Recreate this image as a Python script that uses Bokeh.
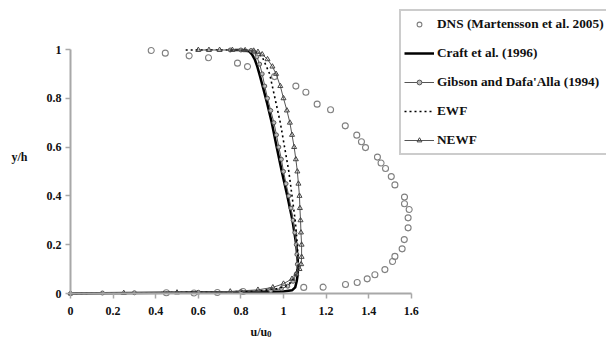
from bokeh.plotting import figure
from bokeh.models import Legend, LegendItem, Label, Range1d, FixedTicker
from bokeh.embed import file_html
from bokeh.resources import INLINE

# ---------------- data ----------------
dns_u = [0.379, 0.445, 0.557, 0.648, 0.784, 0.831, 0.958, 1.058, 1.105, 1.158, 1.221, 1.290,
         1.344, 1.366, 1.385, 1.441, 1.458, 1.479, 1.506, 1.523, 1.568, 1.568, 1.590, 1.585,
         1.585, 1.567, 1.557, 1.523, 1.512, 1.476, 1.429, 1.393, 1.346, 1.291, 1.186, 1.095,
         0.94, 0.81, 0.69, 0.58, 0.45]
dns_y = [0.996, 0.985, 0.974, 0.966, 0.944, 0.930, 0.889, 0.850, 0.825, 0.776, 0.753, 0.687,
         0.649, 0.622, 0.598, 0.559, 0.535, 0.512, 0.479, 0.445, 0.395, 0.368, 0.344, 0.310,
         0.269, 0.221, 0.183, 0.152, 0.131, 0.098, 0.077, 0.060, 0.045, 0.037, 0.026, 0.025,
         0.012, 0.008, 0.004, 0.002, 0.003]

craft_u = [0, 0.3, 0.6, 0.9, 1.0, 1.04, 1.055, 1.062, 1.067, 1.068, 1.06, 1.042, 1.018, 0.992,
           0.968, 0.945, 0.923, 0.905, 0.89, 0.877, 0.865, 0.852, 0.838, 0.81, 0.77]
craft_y = [0, 0.002, 0.004, 0.006, 0.008, 0.013, 0.025, 0.05, 0.08, 0.12, 0.2, 0.3, 0.4, 0.5,
           0.6, 0.7, 0.78, 0.84, 0.89, 0.93, 0.96, 0.98, 0.993, 0.998, 0.998]

gib_u = [0, 0.15, 0.3, 0.6, 0.8, 0.94, 0.99, 1.02, 1.045, 1.06, 1.065, 1.063, 1.06, 1.053,
         1.045, 1.035, 1.025, 1.012, 1.0, 0.99, 0.978, 0.967, 0.955, 0.94, 0.925, 0.912,
         0.9, 0.888, 0.875, 0.862, 0.848, 0.8, 0.75]
gib_y = [0, 0.002, 0.003, 0.005, 0.008, 0.012, 0.02, 0.03, 0.05, 0.08, 0.12, 0.16, 0.2, 0.25,
         0.3, 0.35, 0.4, 0.45, 0.5, 0.55, 0.6, 0.65, 0.7, 0.75, 0.8, 0.85, 0.9, 0.94, 0.97,
         0.99, 0.996, 0.998, 0.998]

ewf_u = [0, 0.25, 0.5, 0.75, 0.9, 0.97, 1.01, 1.04, 1.06, 1.07, 1.065, 1.055, 1.04, 1.025,
         1.005, 0.985, 0.96, 0.935, 0.9, 0.86, 0.7, 0.53]
ewf_y = [0, 0.002, 0.004, 0.007, 0.012, 0.02, 0.03, 0.05, 0.08, 0.12, 0.2, 0.3, 0.4, 0.5, 0.6,
         0.7, 0.8, 0.9, 0.97, 0.995, 0.999, 0.998]

newf_u = [0, 0.25, 0.5, 0.75, 0.88, 0.95, 1.0, 1.04, 1.06, 1.075, 1.083, 1.085, 1.085, 1.082,
          1.08, 1.077, 1.075, 1.07, 1.065, 1.058, 1.05, 1.04, 1.03, 1.016, 1.0, 0.985, 0.965,
          0.948, 0.925, 0.9, 0.88, 0.86, 0.82, 0.76, 0.7, 0.65, 0.6]
newf_y = [0, 0.002, 0.004, 0.008, 0.015, 0.025, 0.04, 0.06, 0.08, 0.1, 0.12, 0.15, 0.2, 0.25,
          0.3, 0.35, 0.4, 0.45, 0.5, 0.55, 0.6, 0.65, 0.7, 0.75, 0.8, 0.85, 0.9, 0.93, 0.96,
          0.98, 0.99, 0.995, 0.997, 0.998, 0.998, 0.998, 0.998]

x_ticks = [0, 0.2, 0.4, 0.6, 0.8, 1.0, 1.2, 1.4, 1.6]
x_tick_labels = ["0", "0.2", "0.4", "0.6", "0.8", "1", "1.2", "1.4", "1.6"]
y_ticks = [0, 0.2, 0.4, 0.6, 0.8, 1.0]
y_tick_labels = ["0", "0.2", "0.4", "0.6", "0.8", "1"]

labels = ["DNS (Martensson et al. 2005)", "Craft et al. (1996)",
          "Gibson and Dafa'Alla (1994)", "EWF", "NEWF"]

FONT = "Liberation Serif"

# pixel mapping: x=0 at 70px, 213 px/unit ; y=0 at 293px, 244 px/unit
W, H = 606, 341
x0px, xs = 70.0, 213.0
y0px, ys = 293.0, 244.0

p = figure(width=W, height=H, output_backend="svg", toolbar_location=None,
           x_range=Range1d(-x0px / xs, (W - x0px) / xs),
           y_range=Range1d((y0px - H) / ys, y0px / ys),
           min_border=0)
p.outline_line_color = None
p.xgrid.visible = False
p.ygrid.visible = False
p.background_fill_color = "white"

for ax in (p.xaxis[0], p.yaxis[0]):
    ax.fixed_location = 0
    ax.axis_line_color = "#a8a8a8"
    ax.axis_line_width = 2
    ax.major_tick_line_color = "#a8a8a8"
    ax.major_tick_line_width = 1.5
    ax.minor_tick_line_color = None
    ax.major_tick_in = 0
    ax.major_tick_out = 5
    ax.major_label_text_font = FONT
    ax.major_label_text_font_style = "bold"
    ax.major_label_text_font_size = "12px"
    ax.major_label_text_color = "#111111"

p.xaxis[0].ticker = FixedTicker(ticks=x_ticks)
p.xaxis[0].major_label_overrides = {t: l for t, l in zip(x_ticks, x_tick_labels)}
p.xaxis[0].bounds = (0, 1.6)
p.xaxis[0].major_label_standoff = 8
p.yaxis[0].ticker = FixedTicker(ticks=y_ticks)
p.yaxis[0].major_label_overrides = {t: l for t, l in zip(y_ticks, y_tick_labels)}
p.yaxis[0].bounds = (0, 1)
p.yaxis[0].major_label_standoff = 4

# ---------------- series ----------------
r_dns = p.scatter(dns_u, dns_y, marker="circle", size=6, fill_color=None,
                  line_color="#808080", line_width=1.1)

r_craft = p.line(craft_u, craft_y, line_color="black", line_width=2.5)

r_gib_l = p.line(gib_u, gib_y, line_color="#555555", line_width=1)
r_gib_m = p.scatter(gib_u, gib_y, marker="circle", size=4, fill_color="#bbbbbb",
                    line_color="#555555", line_width=1)

r_ewf = p.line(ewf_u, ewf_y, line_color="black", line_width=1.6, line_dash="2 3")

r_newf_l = p.line(newf_u, newf_y, line_color="#555555", line_width=1)
r_newf_m = p.scatter(newf_u, newf_y, marker="triangle", size=5, fill_color=None,
                     line_color="#444444", line_width=1)

legend = Legend(items=[
    LegendItem(label=labels[0], renderers=[r_dns]),
    LegendItem(label=labels[1], renderers=[r_craft]),
    LegendItem(label=labels[2], renderers=[r_gib_l, r_gib_m]),
    LegendItem(label=labels[3], renderers=[r_ewf]),
    LegendItem(label=labels[4], renderers=[r_newf_l, r_newf_m]),
], location=(399, H - 155))
legend.label_text_font = FONT
legend.label_text_font_style = "bold"
legend.label_text_font_size = "13.3px"
legend.label_text_color = "#111111"
legend.glyph_width = 30
legend.glyph_height = 12
legend.label_height = 20
legend.label_standoff = 3
legend.spacing = 9
legend.padding = 3
legend.margin = 0
legend.border_line_color = "#999999"
legend.border_line_width = 2
legend.background_fill_color = "white"
legend.background_fill_alpha = 1
p.add_layout(legend, "center")

ylab = Label(x=-0.277, y=0.561, text="y/h", text_font=FONT, text_font_style="bold",
             text_font_size="12px", text_align="left", text_baseline="middle",
             text_color="#111111")
xlab = Label(x=0.845, y=-0.156, text="u/u", text_font=FONT, text_font_style="bold",
             text_font_size="12px", text_align="left", text_baseline="middle",
             text_color="#111111")
xsub = Label(x=0.923, y=-0.168, text="0", text_font=FONT, text_font_style="bold",
             text_font_size="9px", text_align="left", text_baseline="middle",
             text_color="#111111")
p.add_layout(ylab)
p.add_layout(xlab)
p.add_layout(xsub)

open("out.html", "w").write(file_html(p, INLINE))
